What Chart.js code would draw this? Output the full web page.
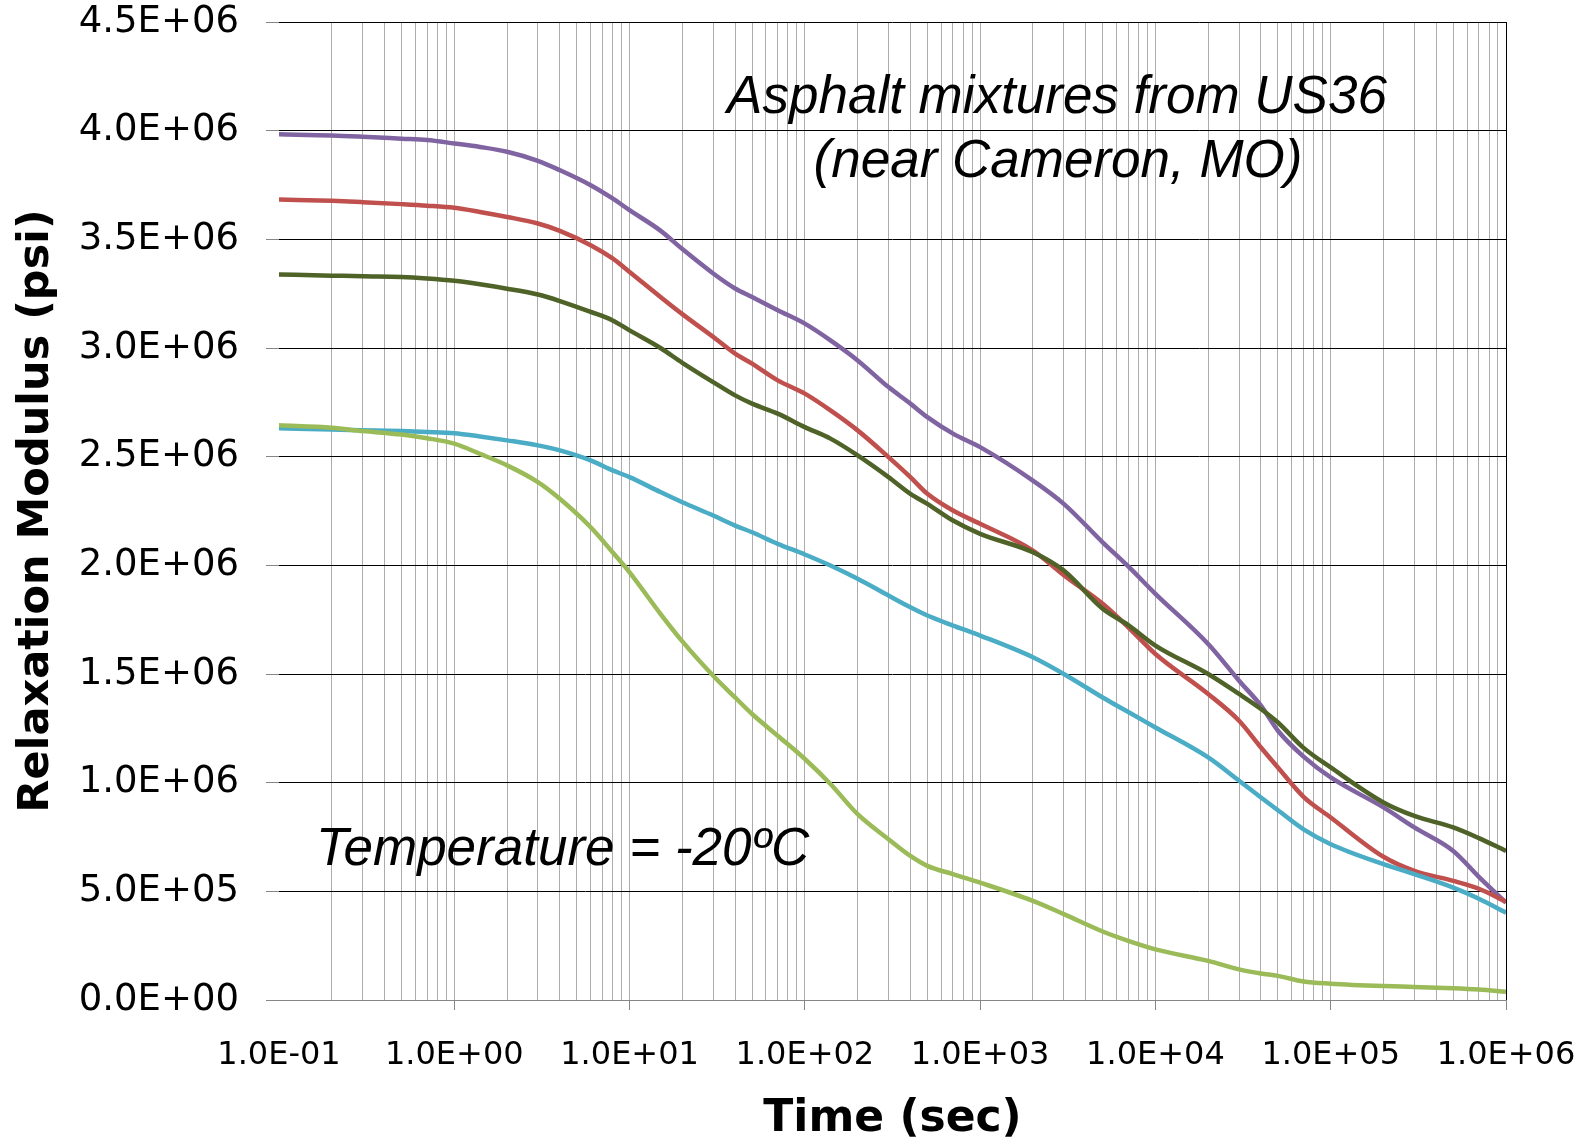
<!DOCTYPE html>
<html>
<head>
<meta charset="utf-8">
<script src="https://cdn.jsdelivr.net/npm/chart.js@4.4.1/dist/chart.umd.min.js"></script>
<style>
  html, body { margin: 0; padding: 0; background: #fff; }
  #chart { display: block; }
</style>
</head>
<body>
<canvas id="chart" width="1585" height="1144"></canvas>
<script>
const times = [0.1, 0.2, 0.3, 0.5, 0.7, 1, 1.4, 2, 3, 4, 6, 8, 10, 15, 20, 30, 40, 50, 70, 100,
    140, 200, 300, 400, 500, 700, 1000, 2000, 3000, 5000, 7000, 1e4, 2e4, 3e4, 4e4, 5e4, 7e4,
    1e5, 2e5, 3e5, 5e5, 7e5, 1e6];

// Módulo de relajación (x1e6 psi), una lista por mezcla
const purpleMix = [3.983, 3.978, 3.972, 3.963, 3.957, 3.941, 3.925, 3.903, 3.861, 3.818, 3.749, 3.688,
    3.634, 3.54, 3.455, 3.343, 3.274, 3.235, 3.174, 3.112, 3.035, 2.943, 2.820, 2.744, 2.682, 2.606,
    2.544, 2.390, 2.283, 2.106, 1.995, 1.869, 1.638, 1.469, 1.354, 1.239, 1.12, 1.024, 0.886, 0.794,
    0.686, 0.567, 0.448];
const redMix = [3.683, 3.677, 3.671, 3.662, 3.655, 3.645, 3.626, 3.603, 3.573, 3.539, 3.473, 3.412,
    3.350, 3.235, 3.156, 3.051, 2.974, 2.928, 2.851, 2.790, 2.713, 2.621, 2.498, 2.406, 2.329, 2.252,
    2.191, 2.068, 1.955, 1.823, 1.715, 1.592, 1.408, 1.285, 1.162, 1.07, 0.935, 0.840, 0.659, 0.594,
    0.548, 0.512, 0.452];
const darkGreenMix = [3.338, 3.333, 3.330, 3.327, 3.320, 3.309, 3.293, 3.273, 3.246, 3.216, 3.166, 3.127,
    3.081, 3.0, 2.932, 2.843, 2.782, 2.744, 2.698, 2.636, 2.583, 2.506, 2.406, 2.329, 2.283, 2.206,
    2.145, 2.060, 1.976, 1.800, 1.725, 1.631, 1.500, 1.408, 1.339, 1.277, 1.16, 1.070, 0.909, 0.847,
    0.794, 0.745, 0.686];
const cyanMix = [2.631, 2.625, 2.622, 2.618, 2.614, 2.608, 2.593, 2.575, 2.552, 2.529, 2.483, 2.437,
    2.406, 2.337, 2.29, 2.229, 2.183, 2.152, 2.099, 2.050, 1.999, 1.938, 1.861, 1.807, 1.769, 1.723,
    1.677, 1.577, 1.500, 1.392, 1.325, 1.254, 1.116, 1.009, 0.932, 0.873, 0.785, 0.717, 0.625, 0.579,
    0.517, 0.466, 0.402];
const lightGreenMix = [2.644, 2.633, 2.618, 2.602, 2.585, 2.560, 2.513, 2.460, 2.383, 2.306, 2.175, 2.060,
    1.968, 1.777, 1.65, 1.492, 1.392, 1.316, 1.216, 1.109, 0.994, 0.855, 0.740, 0.663, 0.617, 0.579,
    0.540, 0.456, 0.395, 0.315, 0.272, 0.233, 0.180, 0.141, 0.122, 0.111, 0.085, 0.075, 0.064, 0.060,
    0.054, 0.048, 0.038];

// Marcas de los ejes
const xDecades = [0.1, 1, 10, 100, 1e3, 1e4, 1e5, 1e6];
const yTicks = [0, 0.5e6, 1e6, 1.5e6, 2e6, 2.5e6, 3e6, 3.5e6, 4e6, 4.5e6];

// Textos
const noteTitle = ['Asphalt mixtures from US36', '(near Cameron, MO)'];
const noteTemp = 'Temperature = -20ºC';

// Formato tipo Excel: 1.0E+06
function sci(v) {
    if (v === 0) return '0.0E+00';
    const e = Math.floor(Math.log10(v) + 1e-9);
    const m = v / Math.pow(10, e);
    return m.toFixed(1) + 'E' + (e < 0 ? '-' : '+') + String(Math.abs(e)).padStart(2, '0');
}

function isDecade(v) {
    return xDecades.some(d => Math.abs(v / d - 1) < 1e-6);
}

function toPoints(vals) {
    return times.map((t, i) => ({ x: t, y: vals[i] * 1e6 }));
}

// Todas las líneas de la rejilla 1..9 por década
const xGridValues = [];
for (let d = 0.1; d < 1e6; d *= 10) {
    for (let k = 1; k <= 9; k++) xGridValues.push(+(k * d).toPrecision(6));
}
xGridValues.push(1e6);

const mkLine = (label, color, vals) => ({
    label: label,
    data: toPoints(vals),
    borderColor: color,
    backgroundColor: color,
    borderWidth: 4.5,
    pointRadius: 0,
    cubicInterpolationMode: 'monotone',
    fill: false
});

// Sin márgenes extra por las etiquetas: el área del gráfico queda fija
function noOverflow(scale) {
    scale.paddingTop = 0;
    scale.paddingBottom = 0;
    scale.paddingLeft = 0;
    scale.paddingRight = 0;
}

// Plugin para las notas en cursiva
const notesPlugin = {
    id: 'notes',
    afterDatasetsDraw(chart) {
        const ctx = chart.ctx;
        ctx.save();
        ctx.fillStyle = '#000';
        ctx.font = 'italic 53px "Liberation Sans", Arial, sans-serif';
        ctx.textAlign = 'center';
        ctx.textBaseline = 'alphabetic';
        ctx.fillText(noteTitle[0], 1057, 113);
        ctx.fillText(noteTitle[1], 1058, 177);
        ctx.textAlign = 'left';
        ctx.fillText(noteTemp, 316, 865);
        ctx.restore();
    }
};

const ctx = document.getElementById('chart').getContext('2d');
const chart = new Chart(ctx, {
    type: 'line',
    data: {
        datasets: [
            mkLine('Mix 5', '#9BBB59', lightGreenMix),
            mkLine('Mix 4', '#4BACC6', cyanMix),
            mkLine('Mix 3', '#4F6228', darkGreenMix),
            mkLine('Mix 2', '#C0504D', redMix),
            mkLine('Mix 1', '#8064A2', purpleMix)
        ]
    },
    options: {
        responsive: false,
        animation: false,
        devicePixelRatio: 1,
        layout: { padding: { top: 22, right: 79, bottom: 0, left: 0 } },
        plugins: {
            legend: { display: false },
            tooltip: { enabled: false }
        },
        scales: {
            x: {
                type: 'logarithmic',
                min: 0.1,
                max: 1e6,
                afterBuildTicks: (scale) => {
                    scale.ticks = xGridValues.map(v => ({ value: v, major: isDecade(v) }));
                },
                afterFit: (scale) => { scale.height = 144; noOverflow(scale); },
                border: { display: true, color: '#868686', width: 1 },
                grid: {
                    color: (c) => {
                        const v = c.tick ? c.tick.value : 0;
                        if (Math.abs(v - 0.1) < 1e-9) return 'rgba(0,0,0,0)';
                        if (v >= 1e6) return '#000000';
                        return '#acacac';
                    },
                    lineWidth: 1,
                    tickLength: 10,
                    tickColor: (c) => {
                        const v = c.tick ? c.tick.value : 0;
                        return (isDecade(v) && v > 0.1) ? '#868686' : 'rgba(0,0,0,0)';
                    }
                },
                ticks: {
                    autoSkip: false,
                    maxRotation: 0,
                    minRotation: 0,
                    padding: 30,
                    color: '#000',
                    font: { family: '"DejaVu Sans", Verdana, sans-serif', size: 32, lineHeight: 1 },
                    callback: (v) => isDecade(v) ? sci(v) : ''
                },
                title: {
                    display: true,
                    text: 'Time (sec)',
                    color: '#000',
                    font: { family: '"DejaVu Sans", Verdana, sans-serif', size: 44, weight: 'bold', lineHeight: 1 },
                    padding: { top: 0, bottom: 2 }
                }
            },
            y: {
                type: 'linear',
                min: 0,
                max: 4.5e6,
                afterBuildTicks: (scale) => {
                    scale.ticks = yTicks.map(v => ({ value: v }));
                },
                afterFit: (scale) => { scale.width = 279; noOverflow(scale); },
                border: { display: false },
                grid: {
                    color: (c) => (c.tick && c.tick.value === 0) ? '#868686' : '#000000',
                    lineWidth: 1,
                    tickLength: 13,
                    tickColor: '#868686'
                },
                ticks: {
                    padding: 27,
                    color: '#000',
                    font: { family: '"DejaVu Sans", Verdana, sans-serif', size: 37, lineHeight: 1 },
                    callback: (v) => sci(v)
                },
                title: {
                    display: true,
                    text: 'Relaxation Modulus (psi)',
                    color: '#000',
                    font: { family: '"DejaVu Sans", Verdana, sans-serif', size: 43, weight: 'bold', lineHeight: 1 },
                    padding: { top: 15, bottom: 0 }
                }
            }
        }
    },
    plugins: [notesPlugin]
});
</script>
</body>
</html>
